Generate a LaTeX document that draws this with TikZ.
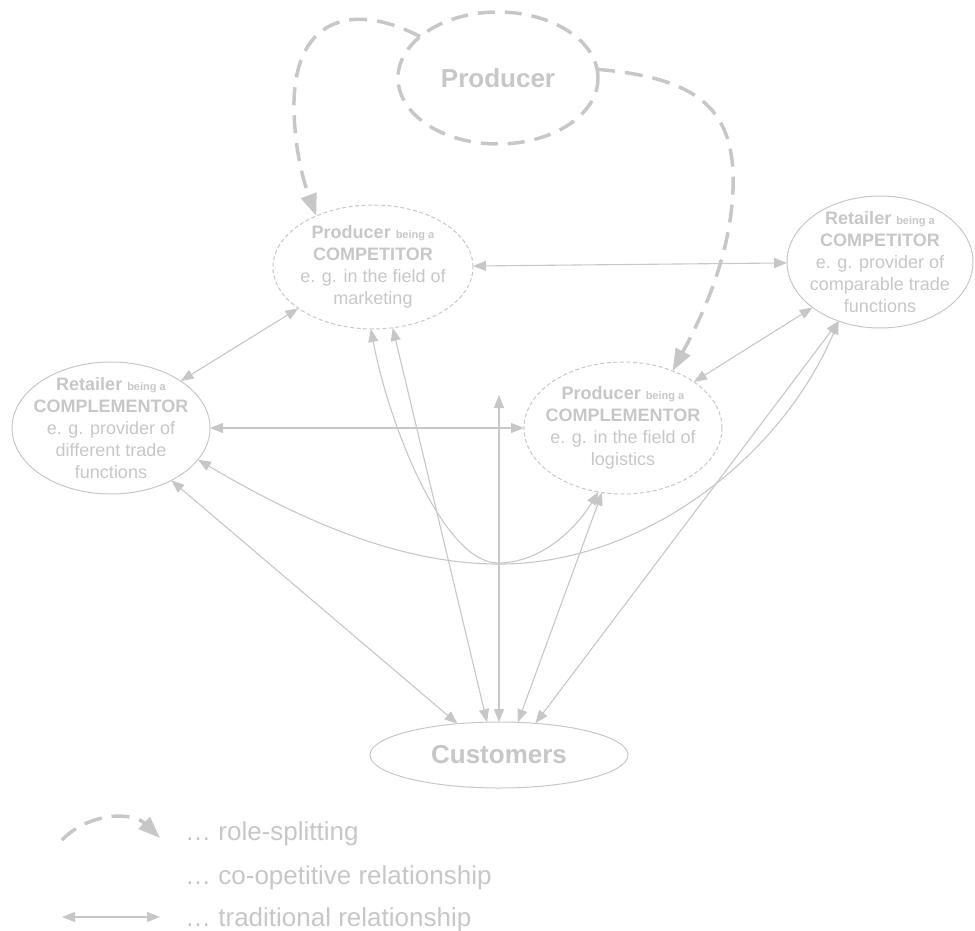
\documentclass[tikz,border=0pt]{standalone}
\usepackage{fontspec}
\setmainfont{Liberation Sans}
\usetikzlibrary{positioning,arrows.meta,shapes.geometric}
\definecolor{lgray}{RGB}{199,199,199}

\begin{document}
\begin{tikzpicture}[x=1pt,y=-1pt,
		roleell/.style={ellipse,draw=lgray,line width=3.5pt,dash pattern=on 17pt off 10pt,inner xsep=-8pt,inner ysep=-10pt,outer sep=0pt,text=lgray,font=\fontsize{26}{30}\selectfont\bfseries},
		coopell/.style={ellipse,draw=lgray,line width=1pt,dash pattern=on 4pt off 2.5pt,inner xsep=-8pt,inner ysep=-10pt,outer sep=0pt,text=lgray,align=center,font=\fontsize{18}{22}\selectfont},
		tradell/.style={ellipse,draw=lgray,line width=1pt,inner xsep=-8pt,inner ysep=-10pt,outer sep=0pt,text=lgray,align=center,font=\fontsize{18}{22}\selectfont},
		rel/.style={draw=lgray,line width=1.1pt,{Triangle[length=13pt,width=10pt]}-{Triangle[length=13pt,width=10pt]}},
		role/.style={draw=lgray,line width=3.5pt,dash pattern=on 18pt off 10pt,-{Triangle[length=22pt,width=16pt]}},
		legtext/.style={text=lgray,anchor=base west,inner sep=0pt,font=\fontsize{26}{30}\selectfont}]
		\useasboundingbox (0,0) rectangle (975,930);

		\node[roleell,minimum width=200pt,minimum height=132pt]									(prod)		at (498,78) {Producer};
		\node[coopell,minimum width=200pt,minimum height=124pt,below=61pt of prod,xshift=-125pt]	(pcomp)		{\textbf{Producer} {\fontsize{11}{22}\selectfont\bfseries being a}\\\textbf{COMPETITOR}\\e. g. in the field of\\marketing};
		\node[tradell,minimum width=186pt,minimum height=132pt,right=314pt of pcomp,yshift=5pt]	(rcomp)		{\textbf{Retailer} {\fontsize{11}{22}\selectfont\bfseries being a}\\\textbf{COMPETITOR}\\e. g. provider of\\comparable trade\\functions};
		\node[coopell,minimum width=198pt,minimum height=132pt]									(pcompl)	at (623,428) {\textbf{Producer} {\fontsize{11}{22}\selectfont\bfseries being a}\\\textbf{COMPLEMENTOR}\\e. g. in the field of\\logistics};
		\node[tradell,minimum width=198pt,minimum height=132pt,left=314pt of pcompl]				(rcompl)	{\textbf{Retailer} {\fontsize{11}{22}\selectfont\bfseries being a}\\\textbf{COMPLEMENTOR}\\e. g. provider of\\different trade\\functions};
		\node[tradell,minimum width=258pt,minimum height=66pt,below=228pt of pcompl,xshift=-124pt,font=\fontsize{26}{30}\selectfont\bfseries]	(cust)	{Customers};
		\coordinate (coop) at (499,395);

		\draw[role] (prod.152) .. controls (350,0) and (292,20) .. (294,110) .. controls (295,150) and (303,180) .. (pcomp.138);
		\draw[role] (prod.5) .. controls (700,78) and (736,110) .. (733,190) .. controls (730,260) and (700,320) .. (pcompl.49);

		\draw[rel] (pcomp) -- (rcomp);
		\draw[rel] (rcompl.34) -- (pcomp.209);
		\draw[rel] (rcompl) -- (pcompl);
		\draw[rel] (pcompl.33) -- (rcomp.214);
		\draw[rel] (rcompl.340) .. controls (300,520) and (400,564) .. (498,564) .. controls (640,565) and (780,460) .. (rcomp.235);
		\draw[rel] (pcomp.268) .. controls (390,430) and (445,563) .. (498,563) .. controls (540,563) and (575,530) .. (pcompl.249);
		\draw[rel] (cust.143) -- (rcompl.319);
		\draw[rel] (cust.110) -- (pcomp.288);
		\draw[rel] (cust.north) -- (coop);
		\draw[rel] (cust.60) -- (pcompl.252);
		\draw[rel] (cust.41) -- (rcomp.235);

		\coordinate (rsa) at (62,840);
		\coordinate (rsb) at (160,838);
		\coordinate (tra) at (62,917);
		\coordinate (trb) at (160,917);
		\draw[role] (rsa) to[bend left=45] (rsb);
		\draw[rel] (tra) -- (trb);
		\node[legtext] (lrs)	at (185,840) {… role-splitting};
		\node[legtext] (lco)	at (185,884) {… co-opetitive relationship};
		\node[legtext] (ltr)	at (185,926) {… traditional relationship};
	\end{tikzpicture}
\end{document}
